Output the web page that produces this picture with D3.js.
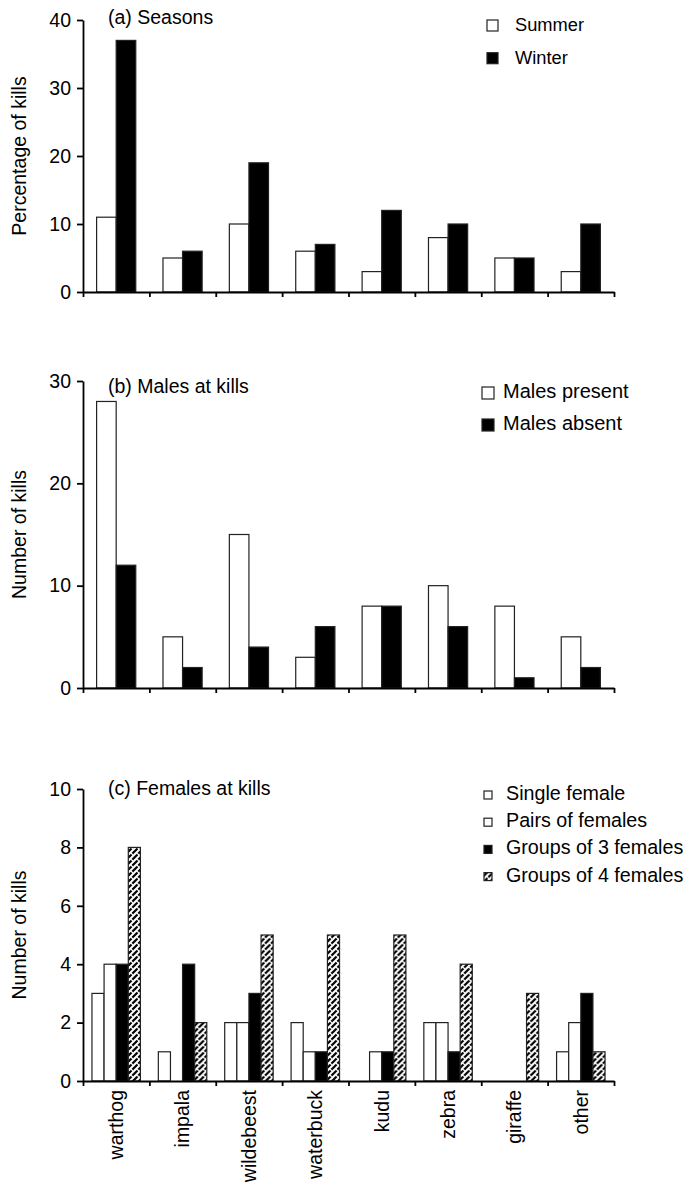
<!DOCTYPE html>
<html>
<head>
<meta charset="utf-8">
<script src="https://cdn.jsdelivr.net/npm/d3@7"></script>
<style>
  body { margin: 0; background: #fff; }
  svg text { font-family: "Liberation Sans", Arial, sans-serif; fill: #000; }
</style>
</head>
<body>
<div id="chart"></div>
<script>
// prey categories (shared x axis)
const categories = ["warthog", "impala", "wildebeest", "waterbuck", "kudu", "zebra", "giraffe", "other"];

// (a) Seasons, percentage of kills
const summer = [11, 5, 10, 6, 3, 8, 5, 3];
const winter = [37, 6, 19, 7, 12, 10, 5, 10];

// (b) Males at kills, number of kills
const malesPresent = [28, 5, 15, 3, 8, 10, 8, 5];
const malesAbsent = [12, 2, 4, 6, 8, 6, 1, 2];

// (c) Females at kills, number of kills
const singleFemale = [3, 1, 2, 2, 0, 2, 0, 1];
const pairsFemales = [4, 0, 2, 1, 1, 2, 0, 2];
const groups3 = [4, 4, 3, 1, 1, 1, 0, 3];
const groups4 = [8, 2, 5, 5, 5, 4, 3, 1];

const ticksA = [0, 10, 20, 30, 40];
const ticksB = [0, 10, 20, 30];
const ticksC = [0, 2, 4, 6, 8, 10];

const W = 686, H = 1183;
const left = 83, right = 614;
const fontSize = 19.5;

const svg = d3.select("#chart").append("svg")
    .attr("width", W)
    .attr("height", H);

// hatch for groups of 4
const defs = svg.append("defs");
const pat = defs.append("pattern")
    .attr("id", "hatch")
    .attr("patternUnits", "userSpaceOnUse")
    .attr("width", 6)
    .attr("height", 6);
pat.append("rect").attr("width", 6).attr("height", 6).attr("fill", "#fff");
pat.append("path")
    .attr("d", "M0,6 L6,0 M-1,1 L1,-1 M5,7 L7,5")
    .attr("stroke", "#000")
    .attr("stroke-width", 2.2)
    .attr("stroke-dasharray", "5,1.2");

function drawPanel(cfg) {
    const g = svg.append("g");

    const y = d3.scaleLinear()
        .domain([0, d3.max(cfg.ticks)])
        .range([cfg.y0, cfg.y1]);

    const x0 = d3.scaleBand()
        .domain(categories)
        .range([left, right])
        .paddingInner(cfg.pad)
        .paddingOuter(cfg.pad / 2);

    const keys = cfg.series.map(s => s.name);
    const x1 = d3.scaleBand()
        .domain(keys)
        .range([0, x0.bandwidth()]);

    const rows = categories.map((c, i) => ({
        cat: c,
        vals: cfg.series.map(s => ({ key: s.name, fill: s.fill, value: s.values[i] }))
    }));

    g.selectAll(".grp")
        .data(rows)
        .enter()
        .append("g")
        .attr("transform", d => `translate(${x0(d.cat)},0)`)
        .selectAll("rect")
        .data(d => d.vals)
        .enter()
        .append("rect")
        .attr("x", d => x1(d.key))
        .attr("y", d => y(d.value))
        .attr("width", x1.bandwidth())
        .attr("height", d => y(0) - y(d.value))
        .attr("fill", d => d.fill)
        .attr("stroke", "#222")
        .attr("stroke-width", 1.2);

    // y axis
    const yAxis = g.append("g")
        .attr("transform", `translate(${left},0)`)
        .call(d3.axisLeft(y).tickValues(cfg.ticks).tickSize(6).tickSizeOuter(0).tickPadding(6));
    yAxis.selectAll("text").style("font-size", fontSize + "px");

    // x axis, ticks on category boundaries
    const xb = d3.scaleLinear().domain([0, categories.length]).range([left, right]);
    g.append("g")
        .attr("transform", `translate(0,${cfg.y0})`)
        .call(d3.axisBottom(xb).tickValues(d3.range(categories.length + 1)).tickSize(5).tickSizeOuter(0).tickFormat(""));

    g.selectAll(".domain, .tick line")
        .attr("stroke", "#000")
        .attr("stroke-width", 1.8);

    if (cfg.xLabels) {
        g.selectAll(".xlab")
            .data(categories)
            .enter()
            .append("text")
            .attr("transform", d => `translate(${x0(d) + x0.bandwidth() / 2},${cfg.y0 + 9}) rotate(-90)`)
            .attr("text-anchor", "end")
            .attr("dy", "0.35em")
            .style("font-size", fontSize + "px")
            .text(d => d);
    }

    // y axis title
    g.append("text")
        .attr("transform", `translate(26,${(cfg.y0 + cfg.y1) / 2}) rotate(-90)`)
        .attr("text-anchor", "middle")
        .style("font-size", fontSize + "px")
        .text(cfg.yTitle);

    // panel title
    g.append("text")
        .attr("x", 108)
        .attr("y", cfg.titleY)
        .style("font-size", fontSize + "px")
        .text(cfg.title);

    // legend
    const leg = g.append("g")
        .attr("transform", `translate(${cfg.legend.x},${cfg.legend.y})`);
    const items = leg.selectAll("g")
        .data(cfg.series)
        .enter()
        .append("g")
        .attr("transform", (d, i) => `translate(0,${i * cfg.legend.step})`);
    items.append("rect")
        .attr("x", 0)
        .attr("y", -cfg.legend.box - cfg.legend.lift)
        .attr("width", cfg.legend.box)
        .attr("height", cfg.legend.box)
        .attr("fill", d => d.fill)
        .attr("stroke", "#222")
        .attr("stroke-width", 1.2);
    items.append("text")
        .attr("x", cfg.legend.tx)
        .attr("y", 0)
        .style("font-size", cfg.legend.size + "px")
        .text(d => d.name);
}

drawPanel({
    title: "(a) Seasons",
    titleY: 24,
    yTitle: "Percentage of kills",
    ticks: ticksA,
    y0: 292, y1: 20,
    pad: 0.41,
    series: [
        { name: "Summer", values: summer, fill: "#fff" },
        { name: "Winter", values: winter, fill: "#000" }
    ],
    legend: { x: 487, y: 31, step: 32.7, box: 11, lift: 0, tx: 28, size: 18.3 }
});

drawPanel({
    title: "(b) Males at kills",
    titleY: 393,
    yTitle: "Number of kills",
    ticks: ticksB,
    y0: 688, y1: 381,
    pad: 0.41,
    series: [
        { name: "Males present", values: malesPresent, fill: "#fff" },
        { name: "Males absent", values: malesAbsent, fill: "#000" }
    ],
    legend: { x: 482, y: 398, step: 32, box: 12, lift: -1, tx: 21, size: 20 }
});

drawPanel({
    title: "(c) Females at kills",
    titleY: 795,
    yTitle: "Number of kills",
    ticks: ticksC,
    y0: 1081, y1: 789,
    pad: 0.27,
    xLabels: true,
    series: [
        { name: "Single female", values: singleFemale, fill: "#fff" },
        { name: "Pairs of females", values: pairsFemales, fill: "#fff" },
        { name: "Groups of 3 females", values: groups3, fill: "#000" },
        { name: "Groups of 4 females", values: groups4, fill: "url(#hatch)" }
    ],
    legend: { x: 484, y: 800, step: 27.2, box: 8, lift: 1, tx: 22, size: 19.7 }
});
</script>
</body>
</html>
